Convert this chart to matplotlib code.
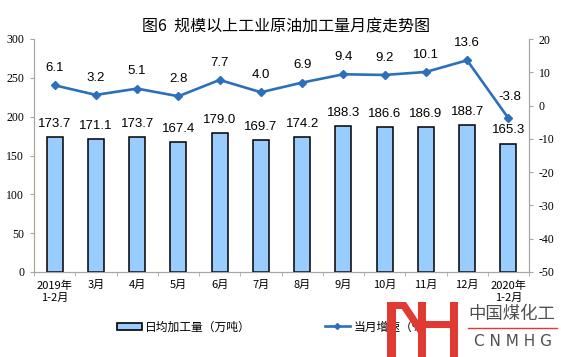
import numpy as np
import matplotlib.pyplot as plt
from matplotlib.lines import Line2D
from matplotlib.patches import Patch, Rectangle, Polygon

plt.rcParams['font.family'] = ['Noto Sans CJK SC', 'DejaVu Sans']
plt.rcParams['axes.unicode_minus'] = False

# 数据
months = ['2019年\n1-2月', '3月', '4月', '5月', '6月', '7月', '8月', '9月',
          '10月', '11月', '12月', '2020年\n1-2月']
daily_output = [173.7, 171.1, 173.7, 167.4, 179.0, 169.7, 174.2, 188.3,
                186.6, 186.9, 188.7, 165.3]
growth = [6.1, 3.2, 5.1, 2.8, 7.7, 4.0, 6.9, 9.4, 9.2, 10.1, 13.6, -3.8]

bar_color = '#99CCFF'
line_color = '#2C6FBB'
logo_red = '#E13A33'

W, H = 561, 357
fig = plt.figure(figsize=(W / 100, H / 100), dpi=100)
ax = fig.add_axes([34 / W, 1 - 272 / H, 495 / W, 233 / H])
ax2 = ax.twinx()

x = np.arange(len(months))
ax.bar(x, daily_output, width=0.39, color=bar_color, edgecolor='black',
       linewidth=1.1, zorder=2)
for xi, v in zip(x, daily_output):
    ax.annotate(f'{v:.1f}', (xi, v), xytext=(0, 9.5), textcoords='offset points',
                ha='center', va='center', fontsize=9.5, family='Liberation Sans')

ax2.plot(x, growth, color=line_color, linewidth=1.9, marker='D', markersize=4.5,
         zorder=3)
for xi, v in zip(x, growth):
    # 最后一点的标签稍高, 避开折线
    dy = 15 if xi == len(growth) - 1 else 12.5
    ax2.annotate(f'{v:.1f}', (xi, v), xytext=(1 if dy == 15 else 0, dy),
                 textcoords='offset points', ha='center', va='center',
                 fontsize=9.5, family='Liberation Sans')

ax.set_xlim(-0.5, len(months) - 0.5)
ax.set_ylim(0, 300)
ax.set_yticks(range(0, 301, 50))
ax2.set_ylim(-50, 20)
ax2.set_yticks(range(-50, 21, 10))

for a in (ax, ax2):
    for s in a.spines.values():
        s.set_color('#A6A6A6')
    a.spines['top'].set_visible(False)
    a.tick_params(axis='y', length=3, color='#A6A6A6', labelsize=8.5,
                  labelfontfamily='Liberation Serif', pad=4)

ax.set_xticks(x)
ax.set_xticklabels(months, fontsize=8, linespacing=1.25)
ax.tick_params(axis='x', length=0, pad=6)
ax.set_xticks(np.arange(-0.5, len(months), 1), minor=True)
ax.tick_params(axis='x', which='minor', length=3, color='#A6A6A6')

fig.text(286 / W, 1 - 27 / H, '图6  规模以上工业原油加工量月度走势图', ha='center',
         va='center', fontsize=11.5)

# 图例
fig.legend([Patch(facecolor=bar_color, edgecolor='black', linewidth=1.2)],
           ['日均加工量（万吨）'], loc='center left',
           bbox_to_anchor=(117 / W, 1 - 327 / H), frameon=False, fontsize=8.5,
           handlelength=2.1, handleheight=0.6, handletextpad=0.3,
           borderpad=0, borderaxespad=0)
fig.legend([Line2D([], [], color=line_color, linewidth=1.9, marker='D',
                   markersize=3)],
           ['当月增速（%）'], loc='center left',
           bbox_to_anchor=(325 / W, 1 - 327 / H), frameon=False, fontsize=8.5,
           handlelength=2.1, handletextpad=0.3, borderpad=0, borderaxespad=0)


# 水印 (像素坐标)
def px_rect(x0, y0, x1, y1):
    fig.add_artist(Rectangle((x0 / W, 1 - y1 / H), (x1 - x0) / W, (y1 - y0) / H,
                             transform=fig.transFigure, color=logo_red,
                             lw=0, zorder=10))


px_rect(387, 302, 396, 357)
px_rect(387, 302, 405, 309)
px_rect(418, 302, 426, 357)
px_rect(426, 321, 450, 328)
px_rect(450, 302, 458, 357)
diag = [(397, 302), (406, 302), (418, 320), (418, 333)]
fig.add_artist(Polygon([(a / W, 1 - b / H) for a, b in diag], closed=True,
                       transform=fig.transFigure, color=logo_red, lw=0,
                       zorder=10))
fig.text(512 / W, 1 - 314 / H, '中国煤化工', color='#505050', fontsize=12.5,
         ha='center', va='center')
fig.add_artist(Line2D([468 / W, 557 / W], [1 - 328 / H, 1 - 328 / H],
                      color=logo_red, linewidth=1, transform=fig.transFigure))
fig.text(513 / W, 1 - 341 / H, 'C N M H G', color='#505050', fontsize=11,
         ha='center', va='center', family='DejaVu Sans')

fig.savefig('out.png', dpi=100)
